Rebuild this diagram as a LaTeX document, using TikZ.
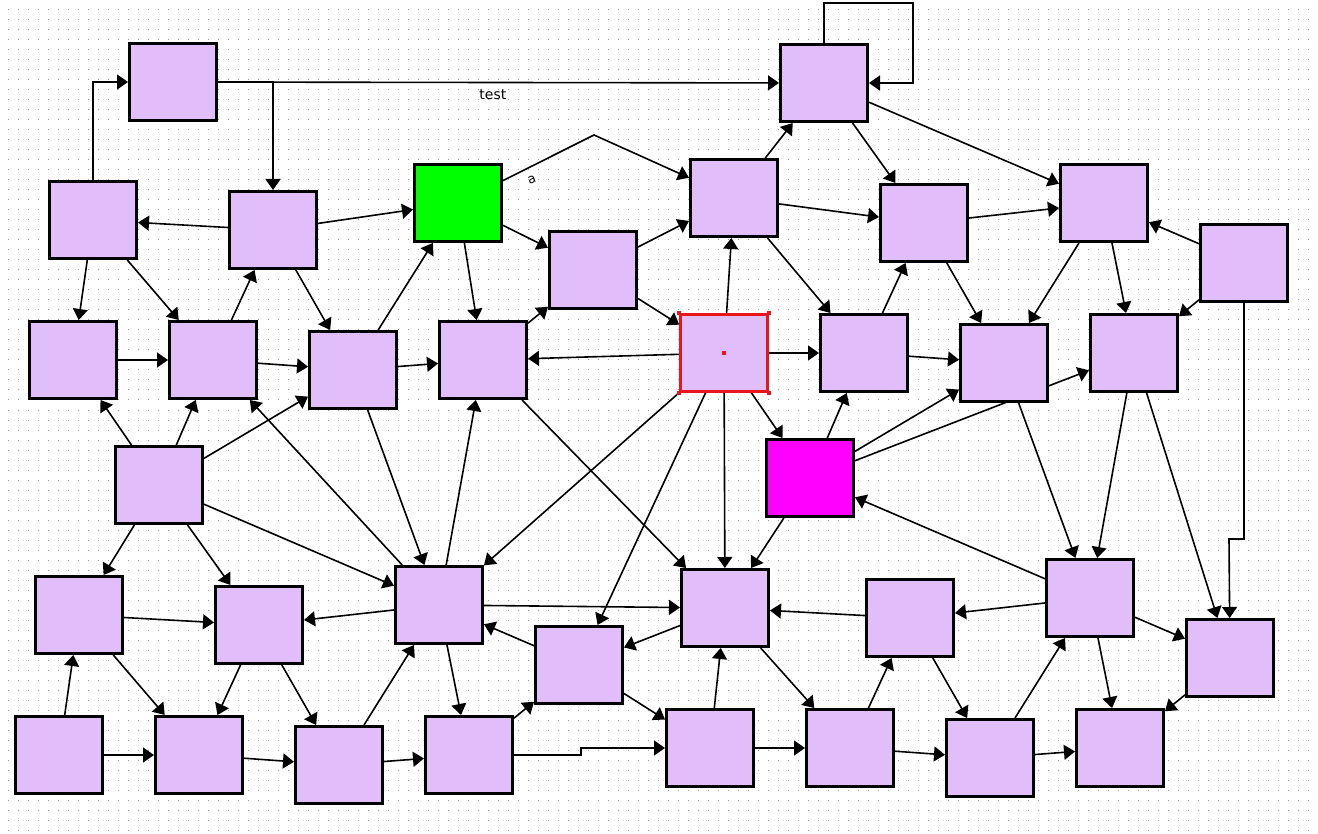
\documentclass[tikz,border=0pt]{standalone}
\usepackage{fontspec}
\setmainfont{DejaVu Sans}
\usetikzlibrary{arrows.meta}
\definecolor{lav}{RGB}{225,189,250}
\definecolor{selred}{RGB}{232,20,30}
\definecolor{mag}{RGB}{255,0,255}
\definecolor{grn}{RGB}{0,255,0}
\pgfdeclarelayer{grid}
\pgfdeclarelayer{edges}
\pgfsetlayers{grid,edges,main}

\begin{document}
\begin{tikzpicture}[x=1pt,y=-1pt,
	box/.style={draw,line width=3pt,fill=lav,minimum width=87pt,minimum height=77pt,inner sep=0pt},
	arr/.style={line width=1.6pt,-{Triangle[length=11pt,width=15pt]}},
	handle/.style={fill=selred,minimum size=4pt,inner sep=0pt},
	lbl/.style={inner sep=0pt,font=\fontsize{14}{16}\selectfont}]
	\useasboundingbox (0,0) rectangle (1318,834);
	\begin{pgfonlayer}{grid}
		\fill[white] (0,0) rectangle (1318,834);
		\foreach \x in {8,18,...,1318}\draw[gray!80,line width=1pt,dash pattern=on 1pt off 9pt] (\x,9.5)--(\x,834);
	\end{pgfonlayer}

	\node[box] (A) at (173,82) {};
	\node[box] (B) at (824,83) {};
	\node[box] (C) at (93,220) {};
	\node[box] (D) at (273,230) {};
	\node[box,fill=grn] (G) at (458,203) {};
	\node[box] (E) at (593,270) {};
	\node[box] (F) at (734,198) {};
	\node[box] (H) at (924,223) {};
	\node[box] (I) at (1104,203) {};
	\node[box] (J) at (1244,263) {};
	\node[box] (K) at (73,360) {};
	\node[box] (L) at (213,360) {};
	\node[box] (M) at (353,370) {};
	\node[box] (N) at (483,360) {};
	\node[box,draw=selred,line width=2.5pt] (R) at (724,353) {};
	\node[box] (O) at (864,353) {};
	\node[box] (P) at (1004,363) {};
	\node[box] (Q) at (1134,353) {};
	\node[box] (S) at (159,485) {};
	\node[box,fill=mag] (Mg) at (810,478) {};
	\node[box] (T) at (79,615) {};
	\node[box] (U) at (259,625) {};
	\node[box] (V) at (439,605) {};
	\node[box] (W) at (725,608) {};
	\node[box] (X) at (910,618) {};
	\node[box] (Y) at (1090,598) {};
	\node[box] (Z) at (1230,658) {};
	\node[box] (AA) at (579,665) {};
	\node[box] (BB) at (59,755) {};
	\node[box] (CC) at (199,755) {};
	\node[box] (DD) at (339,765) {};
	\node[box] (EE) at (469,755) {};
	\node[box] (FF) at (710,748) {};
	\node[box] (GG) at (850,748) {};
	\node[box] (HH) at (990,758) {};
	\node[box] (II) at (1120,748) {};
	\node[handle] at (R.center) {};
	\foreach \c in {north west,north east,south west,south east}\node[handle] at (R.\c) {};

	\coordinate (gf) at (594,135);
	\coordinate (lp1) at (824,3);
	\coordinate (lp2) at (913,3);
	\coordinate (jz1) at (1244,539);
	\coordinate (jz2) at (1229,539);
	\coordinate (ef1) at (581,755);
	\coordinate (ef2) at (581,748);

	\begin{pgfonlayer}{edges}
		\draw[arr] (A)--node[lbl,pos=0.49,below=6pt]{test}(B);
		\draw[arr] (A)-|(D);
		\draw[arr] (C)|-(A);
		\draw[arr] (B.north)--(lp1)--(lp2)|-(B.east);
		\draw[arr] (G)--node[lbl,pos=0.3,below=9pt,rotate=20,font=\fontsize{13}{15}\selectfont]{a}(gf)--(F);
		\draw[arr] (J)--(jz1)--(jz2)--(Z);
		\draw[arr] (EE)--(ef1)--(ef2)--(FF);
		\foreach \a/\b in {D/C,D/G,C/K,C/L,L/D,D/M,K/L,L/M,M/G,M/N,G/N,G/E,N/E,E/F,E/R,R/N,R/F,
			F/B,F/O,F/H,R/O,B/H,B/I,H/I,J/I,I/P,I/Q,J/Q,H/P,O/H,O/P,Mg/P,Mg/Q,Mg/O,Mg/W,
			R/V,R/AA,R/W,R/Mg,S/K,S/L,S/M,V/L,M/V,S/V,S/T,S/U,T/U,V/U,BB/T,T/CC,U/CC,U/DD,
			DD/V,BB/CC,CC/DD,DD/EE,V/N,N/W,V/W,AA/V,W/AA,EE/AA,V/EE,FF/W,AA/FF,W/GG,FF/GG,
			X/W,GG/X,Y/Mg,P/Y,Q/Y,Q/Z,Y/X,Y/Z,Y/II,Z/II,X/HH,HH/Y,GG/HH,HH/II}
			\draw[arr] (\a)--(\b);
	\end{pgfonlayer}
\end{tikzpicture}
\end{document}
